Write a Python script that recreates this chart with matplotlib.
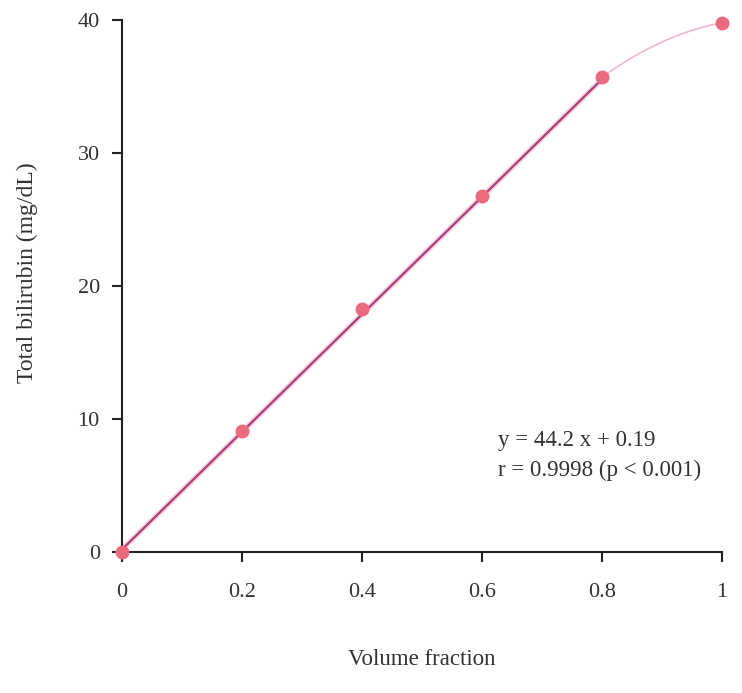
import numpy as np
import matplotlib
matplotlib.use('Agg')
import matplotlib.pyplot as plt

# data
volume_fraction = [0.0, 0.2, 0.4, 0.6, 0.8, 1.0]
bilirubin = [0.0, 9.1, 18.3, 26.8, 35.7, 39.8]
x_ticks = [0, 0.2, 0.4, 0.6, 0.8, 1]
x_tick_labels = ['0', '0.2', '0.4', '0.6', '0.8', '1']
y_ticks = [0, 10, 20, 30, 40]
slope, intercept = 44.2, 0.19

plt.rcParams['font.family'] = ['Liberation Serif', 'DejaVu Serif']

fig = plt.figure(figsize=(7.42, 6.93), dpi=100)
ax = fig.add_axes([0.1644, 0.2035, 0.8086, 0.7675])

# faint curve over the last segment (through last three points)
coef = np.polyfit(volume_fraction[3:], bilirubin[3:], 2)
xc = np.linspace(0.8, 1.0, 50)
ax.plot(xc, np.polyval(coef, xc), color='#f2b8c8', lw=1.2, zorder=2)

# regression line over the linear range
xl = np.array([0.0, 0.8])
ax.plot(xl, slope * xl + intercept, color='#f7a8c0', lw=4, alpha=0.5, zorder=2)
ax.plot(xl, slope * xl + intercept, color='#a8407e', lw=1.6, zorder=3)

ax.plot(volume_fraction, bilirubin, 'o', color='#ec6a7e', ms=9, mec='#ec6a7e',
        zorder=4, clip_on=False)

ax.set_xlim(0, 1)
ax.set_ylim(0, 40)
ax.set_xticks(x_ticks)
ax.set_xticklabels(x_tick_labels)
ax.set_yticks(y_ticks)
for s in ['top', 'right']:
    ax.spines[s].set_visible(False)
for s in ['left', 'bottom']:
    ax.spines[s].set_linewidth(1.5)
    ax.spines[s].set_color('#222222')
ax.tick_params(direction='out', length=7, width=1.5, colors='#222222',
               labelsize=16, labelcolor='#333333')
ax.tick_params(axis='x', pad=15)
ax.tick_params(axis='y', pad=9)

ax.set_xlabel('Volume fraction', fontsize=16.5, color='#333333', labelpad=34)
ax.set_ylabel('Total bilirubin (mg/dL)', fontsize=17, color='#333333')
ax.yaxis.set_label_coords(-0.14, 0.526)

ax.text(0.626, 8.35, 'y = 44.2 x + 0.19', fontsize=16.5, color='#333333', va='center')
ax.text(0.626, 6.15, 'r = 0.9998 (p < 0.001)', fontsize=16.5, color='#333333', va='center')

fig.savefig('out.png', dpi=100)
